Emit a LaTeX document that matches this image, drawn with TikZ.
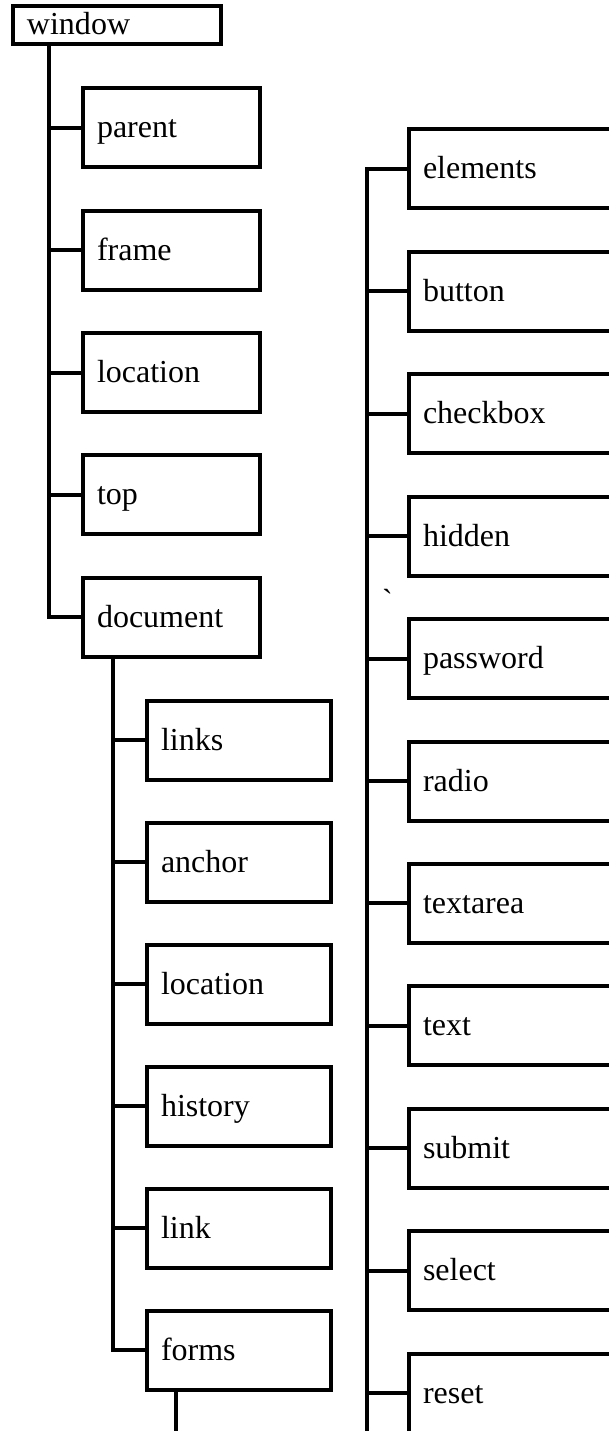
\documentclass[tikz,border=0pt]{standalone}
\usepackage{fontspec}
\setmainfont{Liberation Serif}
\newfontfamily\tickfont{Liberation Serif}[Ligatures=TeXOff]
\usepackage{tikz}

\begin{document}
\begin{tikzpicture}[x=1pt, y=-1pt, line width=4pt,
		every node/.style={font=\fontsize{32}{38}\selectfont},
		objbox/.style={draw, rectangle, anchor=west, inner xsep=14pt, align=left, text height=24pt, text depth=4pt, minimum height=79pt},
		lvlone/.style={objbox, text width=149pt},
		lvltwo/.style={objbox, text width=156pt},
		formel/.style={objbox, text width=240pt}]
		\useasboundingbox (0,0) rectangle (609,1431);
		
		\node[objbox, text width=180pt, minimum height=38pt] (win) at (11,25) {window};
		
		\node[lvlone] (parent) at (81,128) {parent};
		\node[lvlone] (frame) at (81,250.25) {frame};
		\node[lvlone] (location) at (81,372.5) {location};
		\node[lvlone] (top) at (81,494.75) {top};
		\node[lvlone] (document) at (81,617) {document};
		
		\node[lvltwo] (links) at (145,740) {links};
		\node[lvltwo] (anchor) at (145,862) {anchor};
		\node[lvltwo] (doclocation) at (145,984) {location};
		\node[lvltwo] (history) at (145,1106) {history};
		\node[lvltwo] (link) at (145,1228) {link};
		\node[lvltwo] (forms) at (145,1350) {forms};
		
		\node[formel] (elements) at (407,169) {elements};
		\node[formel] (button) at (407,291.4) {button};
		\node[formel] (checkbox) at (407,413.8) {checkbox};
		\node[formel] (hidden) at (407,536.2) {hidden};
		\node[formel] (password) at (407,658.6) {password};
		\node[formel] (radio) at (407,781) {radio};
		\node[formel] (textarea) at (407,903.4) {textarea};
		\node[formel] (text) at (407,1025.8) {text};
		\node[formel] (submit) at (407,1148.2) {submit};
		\node[formel] (select) at (407,1270.6) {select};
		\node[formel] (reset) at (407,1393) {reset};
		
		\node[anchor=base west, inner sep=0pt, font=\fontsize{32}{38}\tickfont] (tick) at (380,611) {\symbol{96}};
		
		% window branches
		\coordinate (wtrunk) at (49,0);
		\draw (win.south -| wtrunk) |- (document.west);
		\draw (parent.west) -- (parent.west -| wtrunk);
		\draw (frame.west) -- (frame.west -| wtrunk);
		\draw (location.west) -- (location.west -| wtrunk);
		\draw (top.west) -- (top.west -| wtrunk);
		
		% document branches
		\coordinate (dtrunk) at (113,0);
		\draw (document.south -| dtrunk) |- (forms.west);
		\draw (links.west) -- (links.west -| dtrunk);
		\draw (anchor.west) -- (anchor.west -| dtrunk);
		\draw (doclocation.west) -- (doclocation.west -| dtrunk);
		\draw (history.west) -- (history.west -| dtrunk);
		\draw (link.west) -- (link.west -| dtrunk);
		
		\coordinate (formsend) at (176,1431);
		\draw (forms.south -| formsend) -- (formsend);
		
		% form elements
		\coordinate (etrunk) at (367,1431);
		\draw (etrunk) |- (elements.west);
		\draw (button.west) -- (button.west -| etrunk);
		\draw (checkbox.west) -- (checkbox.west -| etrunk);
		\draw (hidden.west) -- (hidden.west -| etrunk);
		\draw (password.west) -- (password.west -| etrunk);
		\draw (radio.west) -- (radio.west -| etrunk);
		\draw (textarea.west) -- (textarea.west -| etrunk);
		\draw (text.west) -- (text.west -| etrunk);
		\draw (submit.west) -- (submit.west -| etrunk);
		\draw (select.west) -- (select.west -| etrunk);
		\draw (reset.west) -- (reset.west -| etrunk);
	\end{tikzpicture}
\end{document}
